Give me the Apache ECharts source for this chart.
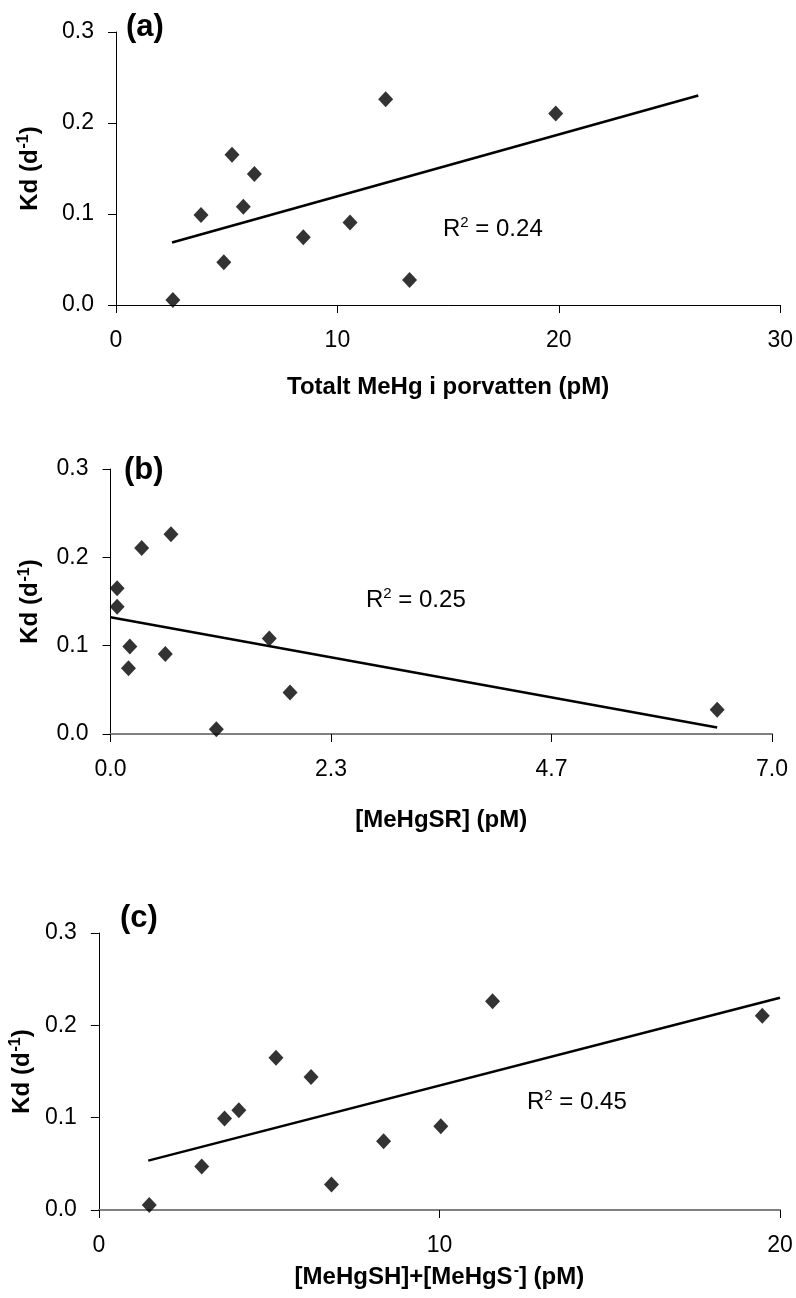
<!DOCTYPE html>
<html>
<head>
<meta charset="utf-8">
<script src="https://cdn.jsdelivr.net/npm/echarts@6/dist/echarts.min.js"></script>
<style>
  html, body { margin: 0; padding: 0; background: #fff; }
  #chart { width: 796px; height: 1298px; }
</style>
</head>
<body>
<div id="chart"></div>
<script>
// Kd (d^-1) for the eleven sediment samples, same order in every panel
const kd = [0.0055, 0.099, 0.047, 0.165, 0.108, 0.144, 0.0744, 0.0906, 0.226, 0.0275, 0.2105];
// (a) total MeHg in pore water (pM)
const totalMeHg = [2.57, 3.84, 4.87, 5.24, 5.75, 6.25, 8.46, 10.57, 12.18, 13.26, 19.86];
// (b) [MeHgSR] (pM)
const meHgSR = [1.12, 0.205, 1.90, 0.07, 1.68, 0.07, 0.19, 0.58, 0.64, 6.42, 0.33];
// (c) [MeHgSH]+[MeHgS-] (pM)
const meHgSH = [1.48, 3.69, 3.02, 5.20, 4.11, 6.23, 8.36, 10.04, 11.56, 6.83, 19.48];

// x-range over which each linear trendline is drawn
const trendRangeA = [2.53, 26.3];
const trendRangeB = [0, 6.42];
const trendRangeC = [1.45, 20];

const r2Labels = ['0.24', '0.25', '0.45'];
const panelLabels = ['(a)', '(b)', '(c)'];

const FONT = '"Liberation Sans", Arial, sans-serif';

function pairs(xs, ys) { return xs.map((x, i) => [x, ys[i]]); }

// ordinary least-squares fit, evaluated at the ends of the range
function trend(xs, ys, range) {
  const n = xs.length;
  const mx = xs.reduce((s, v) => s + v, 0) / n;
  const my = ys.reduce((s, v) => s + v, 0) / n;
  let sxy = 0, sxx = 0;
  for (let i = 0; i < n; i++) { sxy += (xs[i] - mx) * (ys[i] - my); sxx += (xs[i] - mx) ** 2; }
  const b = sxy / sxx, a = my - b * mx;
  return range.map(x => [x, a + b * x]);
}

const grids = [
  { left: 116, right: 15, top: 32, height: 273 },
  { left: 110.5, right: 24, top: 469, height: 265 },
  { left: 98, right: 16, top: 933, height: 277 }
];

const richTitle = {
  b: { fontSize: 24, fontWeight: 'bold', fontFamily: FONT, color: '#000', lineHeight: 28 },
  s: { fontSize: 16, fontWeight: 'bold', fontFamily: FONT, color: '#000', verticalAlign: 'top',
       lineHeight: 16, padding: [0, 0, 0, 1] }
};

function xAxis(i, max, interval, name, gap, lineColor, lineWidth, digits) {
  return {
    type: 'value', gridIndex: i, min: 0, max: max, interval: interval,
    name: name, nameLocation: 'middle', nameGap: gap,
    nameTextStyle: { fontSize: 24, fontWeight: 'bold', fontFamily: FONT, color: '#000', rich: richTitle },
    axisLine: { show: true, onZero: false, lineStyle: { color: lineColor, width: lineWidth } },
    axisTick: { show: true, length: 8, lineStyle: { color: '#000', width: 1 } },
    axisLabel: { fontSize: 23, fontFamily: FONT, color: '#000', margin: 24,
      formatter: v => v.toFixed(digits) },
    splitLine: { show: false }
  };
}

function yAxis(i, gap) {
  return {
    type: 'value', gridIndex: i, min: 0, max: 0.3, interval: 0.1,
    name: '{b|Kd (d}{s|-1}{b|)}', nameLocation: 'middle', nameGap: gap, nameRotate: 90,
    nameTextStyle: { fontSize: 24, fontWeight: 'bold', fontFamily: FONT, color: '#000', rich: richTitle },
    axisLine: { show: true, lineStyle: { color: '#000', width: 1 } },
    axisTick: { show: true, length: 8, lineStyle: { color: '#000', width: 1 } },
    axisLabel: { fontSize: 23, fontFamily: FONT, color: '#000', margin: 22,
      formatter: v => v.toFixed(1) },
    splitLine: { show: false }
  };
}

function scatter(i, xs) {
  return {
    type: 'scatter', xAxisIndex: i, yAxisIndex: i, data: pairs(xs, kd),
    symbol: 'diamond', symbolSize: [15, 16], itemStyle: { color: '#000' }, z: 3
  };
}

function trendLine(i, xs, range) {
  return {
    type: 'line', xAxisIndex: i, yAxisIndex: i, data: trend(xs, kd, range),
    symbol: 'none', lineStyle: { color: '#000', width: 2.5 }, z: 2
  };
}

const richR2 = {
  a: { fontSize: 24, fontFamily: FONT, color: '#000', lineHeight: 28 },
  s: { fontSize: 15, fontFamily: FONT, color: '#000', verticalAlign: 'top', lineHeight: 14 }
};

function r2Text(left, top, value) {
  return { type: 'text', left: left, top: top,
    style: { text: '{a|R}{s|2}{a| = ' + value + '}', rich: richR2 } };
}

function panelText(left, top, label) {
  return { type: 'text', left: left, top: top,
    style: { text: label, fontSize: 31, fontWeight: 'bold', fontFamily: FONT, fill: '#000' } };
}

const option = {
  backgroundColor: '#fff',
  animation: false,
  grid: grids,
  xAxis: [
    xAxis(0, 30, 10, 'Totalt MeHg i porvatten (pM)', 70, '#000', 1, 0),
    xAxis(1, 7, 7 / 3, '[MeHgSR] (pM)', 74, '#808080', 2, 1),
    xAxis(2, 20, 10, '{b|[MeHgSH]+[MeHgS}{s|-}{b|] (pM)}', 53, '#808080', 2, 0)
  ],
  yAxis: [yAxis(0, 72), yAxis(1, 66), yAxis(2, 50)],
  series: [
    scatter(0, totalMeHg), trendLine(0, totalMeHg, trendRangeA),
    scatter(1, meHgSR), trendLine(1, meHgSR, trendRangeB),
    scatter(2, meHgSH), trendLine(2, meHgSH, trendRangeC)
  ],
  graphic: [
    panelText(126, 12, panelLabels[0]),
    panelText(124, 455, panelLabels[1]),
    panelText(120, 903, panelLabels[2]),
    r2Text(443, 215, r2Labels[0]),
    r2Text(366, 586, r2Labels[1]),
    r2Text(527, 1088, r2Labels[2])
  ]
};

echarts.init(document.getElementById('chart')).setOption(option);
</script>
</body>
</html>
